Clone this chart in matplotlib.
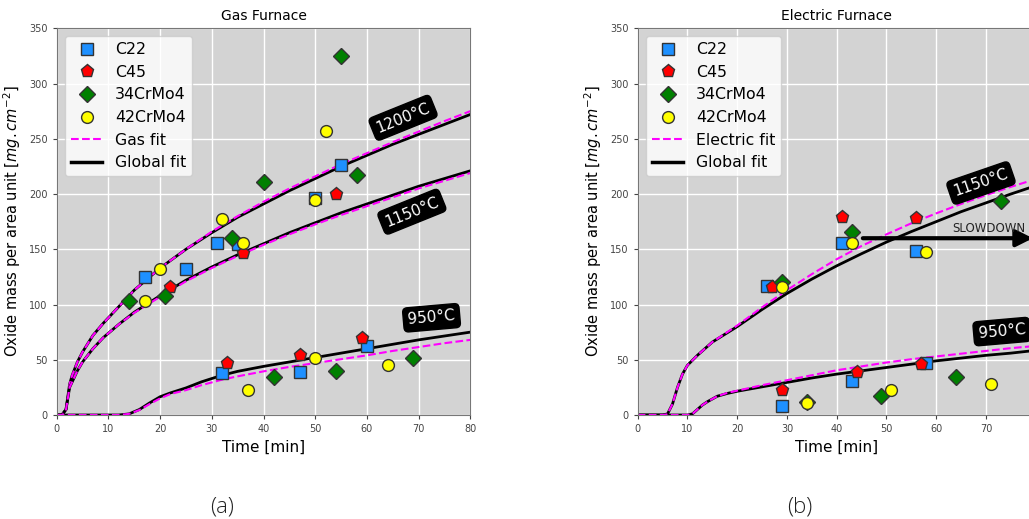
import numpy as np
import matplotlib
matplotlib.use('Agg')
import matplotlib.pyplot as plt
from matplotlib.lines import Line2D

# ---- measured points, gas furnace (time [min], mass [mg/cm2]) ----
gas_c22_t = [17, 25, 31, 35, 50, 55, 32, 47, 60]
gas_c22_m = [125, 132.5, 156, 155, 196, 226, 38, 39, 62]
gas_c45_t = [22, 36, 54, 33, 47, 59]
gas_c45_m = [116, 147, 200, 47, 54, 69.5]
gas_34_t = [14, 21, 34, 40, 55, 58, 42, 54, 69]
gas_34_m = [103, 108, 160, 211, 325, 217, 34.5, 40, 51.5]
gas_42_t = [17, 20, 32, 36, 50, 52, 37, 50, 64]
gas_42_m = [103, 132.5, 177, 156, 195, 257, 22.5, 51.5, 45.5]

# ---- measured points, electric furnace ----
el_c22_t = [26, 41, 56, 29, 43, 58]
el_c22_m = [117, 156, 148, 8, 31, 47]
el_c45_t = [27, 41, 56, 29, 44, 57]
el_c45_m = [116, 179, 178, 23, 38.5, 46.5]
el_34_t = [29, 43, 73, 34, 49, 64]
el_34_m = [120, 166, 194, 11.5, 17, 34]
el_42_t = [29, 43, 58, 34, 51, 71]
el_42_m = [116, 156, 147.5, 11, 22.5, 28]

# ---- fitted curves ----
t_hot = [0, 1, 1.8, 2.5, 3, 4, 5, 7, 9, 12, 15, 20, 25, 30, 35, 40, 45, 50, 55, 60, 65, 70, 75, 80]
gas_1200_global = [0, 0, 5, 28, 36, 48, 57, 72, 83, 98, 113, 133, 150, 165, 179, 191, 203, 214, 225, 235, 245, 254, 263, 272]
gas_1200_fit = [0, 0, 5, 28, 36, 48, 57, 72, 83, 98, 113, 133, 150, 166, 180, 193, 205, 216, 227, 237, 247, 256.5, 266, 275]
gas_1150_global = [0, 0, 5, 25, 30, 40, 48, 60, 70, 82, 93, 108, 122, 134, 145, 155, 165, 174, 183, 191, 199, 207, 214, 221]
gas_1150_fit = [0, 0, 5, 25, 30, 40, 48, 60, 70, 82, 92.5, 107, 121, 133, 144, 154, 163.5, 172.5, 181, 189, 197, 205, 212, 219]

t_gas_950 = [0, 10, 12, 14, 16, 18, 20, 22, 25, 28, 30, 32, 35, 40, 45, 50, 55, 60, 65, 70, 75, 80]
gas_950_global = [0, 0, 0, 1, 5, 11, 16.5, 20, 24.5, 30, 33, 36, 39.5, 44, 48, 52, 56, 60, 64, 68, 71.5, 75]
gas_950_fit = [0, 0, 0, 1, 4.5, 10, 15, 19, 22.5, 27, 29.5, 32, 35, 39.5, 43.5, 47, 50.5, 54, 58, 61.5, 65, 68]

t_el = [0, 5, 6, 7, 8, 9, 10, 12, 15, 20, 25, 30, 35, 40, 45, 50, 55, 60, 65, 70, 75, 80, 85]
el_1150_global = [0, 0, 1, 10, 25, 37, 45, 54, 66, 80, 95.5, 110, 123, 135, 146, 156.5, 166, 175, 184, 192, 200, 207.5, 214]
el_1150_fit = [0, 0, 1, 10, 25, 37, 45, 54, 66, 81, 97.5, 113, 127.5, 141, 153, 163.5, 173.5, 182.5, 191, 199, 206.5, 213.5, 220.5]
t_el_950 = [0, 9, 10, 11, 12, 13, 14, 16, 18, 20, 25, 30, 35, 40, 45, 50, 55, 60, 65, 70, 75, 80, 85]
el_950_global = [0, 0, 0, 1, 5, 9, 12, 17, 19.5, 21.5, 25.5, 29.5, 33.5, 37, 40, 43, 46, 49, 51.5, 54, 56, 58.5, 61]
el_950_fit = [0, 0, 0, 1, 5, 9, 12, 17, 20, 22, 27, 31.5, 36, 40.5, 44, 47.5, 50.5, 53, 55.5, 58, 60.5, 62.5, 64.5]

plt.rcParams['font.family'] = 'DejaVu Sans'
fig = plt.figure(figsize=(10.29, 5.19), dpi=100)
ax1 = fig.add_axes([56.7 / 1029, 104 / 519, 413.6 / 1029, 386.7 / 519])
ax2 = fig.add_axes([637.7 / 1029, 104 / 519, 398 / 1029, 386.7 / 519])

mk = dict(linestyle='none', markersize=8.5, markeredgecolor='#333333', markeredgewidth=1, zorder=5)
mk_p = dict(mk, markersize=9.5)


def style(ax, title):
    ax.set_facecolor('lightgray')
    ax.grid(True, color='white', linewidth=1)
    ax.set_axisbelow(True)
    for s in ax.spines.values():
        s.set_color('#777777')
    ax.tick_params(labelsize=7, colors='#444444', length=3)
    ax.set_xlim(0, 80)
    ax.set_ylim(0, 350)
    ax.set_title(title, fontsize=10)
    ax.set_xlabel('Time [min]', fontsize=11)
    ax.set_ylabel('Oxide mass per area unit [$mg.cm^{-2}$]', fontsize=10.5)


def label(ax, x, y, txt, rot):
    ax.text(x, y, txt, color='white', fontsize=11, rotation=rot, ha='center', va='center',
            rotation_mode='anchor', zorder=6,
            bbox=dict(boxstyle='round,pad=0.3', fc='black', ec='black'))


# gas furnace
style(ax1, 'Gas Furnace')
ax1.plot(t_hot, gas_1200_global, color='black', lw=2)
ax1.plot(t_hot, gas_1200_fit, color='magenta', lw=1.5, ls='--')
ax1.plot(t_hot, gas_1150_global, color='black', lw=2)
ax1.plot(t_hot, gas_1150_fit, color='magenta', lw=1.5, ls='--')
ax1.plot(t_gas_950, gas_950_global, color='black', lw=2)
ax1.plot(t_gas_950, gas_950_fit, color='magenta', lw=1.5, ls='--')
ax1.plot(gas_c22_t, gas_c22_m, marker='s', color='#1e90ff', **mk)
ax1.plot(gas_c45_t, gas_c45_m, marker='p', color='red', **mk_p)
ax1.plot(gas_34_t, gas_34_m, marker='D', color='green', **mk)
ax1.plot(gas_42_t, gas_42_m, marker='o', color='yellow', **mk)
label(ax1, 67, 269, '1200°C', 22)
label(ax1, 68.7, 184, '1150°C', 22)
label(ax1, 72.5, 88, '950°C', 5)

# electric furnace
style(ax2, 'Electric Furnace')
ax2.plot(t_el, el_1150_global, color='black', lw=2)
ax2.plot(t_el, el_1150_fit, color='magenta', lw=1.5, ls='--')
ax2.plot(t_el_950, el_950_global, color='black', lw=2)
ax2.plot(t_el_950, el_950_fit, color='magenta', lw=1.5, ls='--')
ax2.plot(el_c22_t, el_c22_m, marker='s', color='#1e90ff', **mk)
ax2.plot(el_c45_t, el_c45_m, marker='p', color='red', **mk_p)
ax2.plot(el_34_t, el_34_m, marker='D', color='green', **mk)
ax2.plot(el_42_t, el_42_m, marker='o', color='yellow', **mk)
label(ax2, 69, 210, '1150°C', 19)
label(ax2, 73.2, 75.5, '950°C', 5)
ax2.annotate('', xy=(80, 160), xytext=(44.7, 160),
             arrowprops=dict(arrowstyle='-|>', lw=3, color='black', mutation_scale=25))
ax2.text(70.5, 169, 'SLOWDOWN', fontsize=8.5, color='#222222', ha='center', va='center')


def legend(ax, fitname):
    h = [Line2D([], [], marker='s', color='#1e90ff', **mk),
         Line2D([], [], marker='p', color='red', **mk_p),
         Line2D([], [], marker='D', color='green', **mk),
         Line2D([], [], marker='o', color='yellow', **mk),
         Line2D([], [], color='magenta', ls='--', lw=1.5),
         Line2D([], [], color='black', lw=2.5)]
    ax.legend(h, ['C22', 'C45', '34CrMo4', '42CrMo4', fitname, 'Global fit'],
              loc='upper left', fontsize=11.3, labelspacing=0.48, borderaxespad=0.5)


legend(ax1, 'Gas fit')
legend(ax2, 'Electric fit')

fig.text(222 / 1029, 1 - 507 / 519, '(a)', fontsize=16, ha='center', va='center',
         family='Open Sans', fontweight='light', color='#222222')
fig.text(800 / 1029, 1 - 507 / 519, '(b)', fontsize=16, ha='center', va='center',
         family='Open Sans', fontweight='light', color='#222222')

fig.savefig('out.png', dpi=100)
